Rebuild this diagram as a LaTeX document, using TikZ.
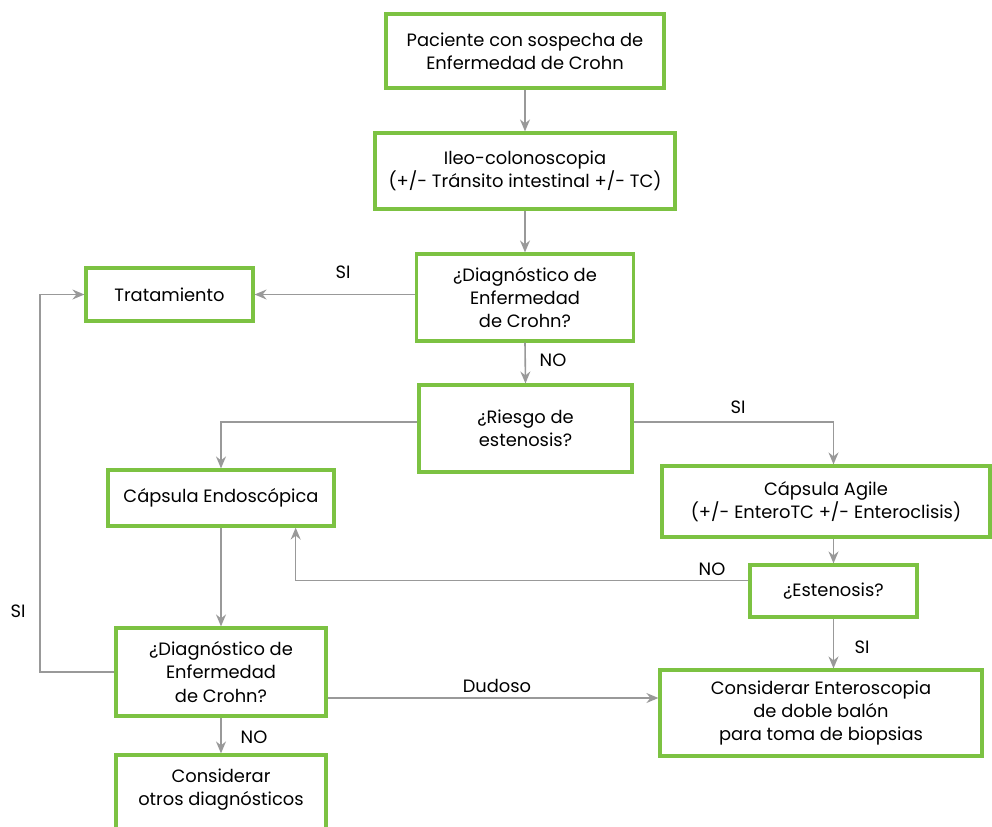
\documentclass[tikz,border=0pt]{standalone}
\usepackage{fontspec}
\setmainfont{Poppins}
\usetikzlibrary{arrows.meta,calc}
\definecolor{boxgreen}{HTML}{7CC242}
\definecolor{linegray}{HTML}{999999}
\tikzset{
  box/.style={draw=boxgreen, line width=2.4pt, align=center, inner sep=2pt, font=\fontsize{13.4}{17.4}\selectfont, text=black},
  arr/.style={draw=linegray, line width=1.2pt, -{Stealth[length=9pt,width=7.5pt,inset=3pt]}},
  lbl/.style={font=\fontsize{13.4}{16}\selectfont, text=black, inner sep=0pt}
}
\begin{document}
\begin{tikzpicture}[x=0.75pt,y=-0.75pt]
\useasboundingbox (0,0) rectangle (992,826);
\clip (0,0) rectangle (992,826);
\node[box, minimum width=278*0.75pt, minimum height=74*0.75pt] (p1) at (525,51) {Paciente con sospecha de\\Enfermedad de Crohn};
\node[box, minimum width=300*0.75pt, minimum height=76*0.75pt] (p2) at (525,171) {Ileo-colonoscopia\\(+/- Tránsito intestinal +/- TC)};
\node[box, minimum width=217*0.75pt, minimum height=87*0.75pt] (d1) at (525,297.5) {¿Diagnóstico de\\Enfermedad\\de Crohn?};
\node[box, minimum width=167*0.75pt, minimum height=53*0.75pt] (trat) at (169.5,294.5) {Tratamiento};
\node[box, minimum width=213*0.75pt, minimum height=87*0.75pt] (r) at (525.5,428.5) {¿Riesgo de\\estenosis?};
\node[box, minimum width=226*0.75pt, minimum height=56*0.75pt] (ce) at (221,498) {Cápsula Endoscópica};
\node[box, minimum width=328*0.75pt, minimum height=71*0.75pt] (ag) at (826,501.5) {Cápsula Agile\\(+/- EnteroTC +/- Enteroclisis)};
\node[box, minimum width=167*0.75pt, minimum height=52*0.75pt] (es) at (833.5,591) {¿Estenosis?};
\node[box, minimum width=210*0.75pt, minimum height=88*0.75pt] (d2) at (221,672) {¿Diagnóstico de\\Enfermedad\\de Crohn?};
\node[box, minimum width=322*0.75pt, minimum height=86*0.75pt] (ced) at (821,713) {Considerar Enteroscopia\\de doble balón\\para toma de biopsias};
\node[box, minimum width=210*0.75pt, minimum height=92*0.75pt, text depth=0pt] (co) at (221,801) {Considerar\\otros diagnósticos\\[3pt]\mbox{}};
\coordinate (loop) at (40,294.5);
% connectors
\draw[arr] (p1.south) -- (p2.north);
\draw[arr] (p2.south) -- (d1.north);
\draw[arr] (d1.west |- trat.east) -- (trat.east);
\draw[arr] (d1.south) -- (r.north);
\draw[arr] ([yshift=5pt]r.west) -| (ce.north);
\draw[arr] ([yshift=5pt]r.east) -| (es.north |- ag.north);
\draw[arr] (es.north |- ag.south) -- (es.north);
\draw[arr] ([yshift=8pt]es.west) -| ([xshift=56pt]ce.south);
\draw[arr] (ce.south) -- (d2.north);
\draw[arr] (d2.west) -| (loop) -- (trat.west);
\draw[arr] ([yshift=-19.5pt]d2.east) -- ([yshift=-19.5pt]d2.east -| ced.west);
\draw[arr] (es.south) -- (es.south |- ced.north);
\draw[arr] (d2.south) -- (co.north);
% labels
\node[lbl] (l1) at (343,272) {SI};
\node[lbl] (l2) at (553,360) {NO};
\node[lbl] (l3) at (738,407) {SI};
\node[lbl] (l4) at (712,569) {NO};
\node[lbl] (l5) at (862,647) {SI};
\node[lbl] (l6) at (497,686) {Dudoso};
\node[lbl] (l7) at (18,611) {SI};
\node[lbl] (l8) at (254,737) {NO};
\end{tikzpicture}
\end{document}
